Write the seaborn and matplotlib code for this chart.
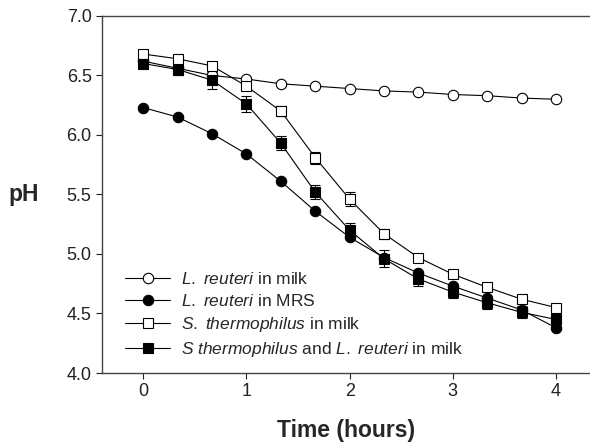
import matplotlib
matplotlib.use("Agg")
import matplotlib.pyplot as plt
import seaborn as sns
import pandas as pd
import numpy as np

# sampling times (hours)
time_h = [0, 1/3, 2/3, 1, 4/3, 5/3, 2, 7/3, 8/3, 3, 10/3, 11/3, 4]

# pH values
reuteri_milk = [6.62, 6.56, 6.50, 6.47, 6.43, 6.41, 6.39, 6.37, 6.36, 6.34, 6.33, 6.31, 6.30]
reuteri_mrs = [6.23, 6.15, 6.01, 5.84, 5.61, 5.36, 5.14, 4.97, 4.84, 4.73, 4.63, 4.53, 4.38]
thermo_milk = [6.68, 6.64, 6.58, 6.41, 6.20, 5.81, 5.46, 5.17, 4.97, 4.83, 4.72, 4.62, 4.55]
coculture = [6.60, 6.55, 6.46, 6.26, 5.93, 5.52, 5.20, 4.96, 4.79, 4.68, 4.59, 4.51, 4.45]

# standard deviations (error bars)
thermo_milk_sd = [0.02, 0.02, 0.02, 0.02, 0.04, 0.05, 0.06, 0.04, 0.02, 0.02, 0.02, 0.02, 0.02]
coculture_sd = [0.03, 0.05, 0.07, 0.07, 0.06, 0.06, 0.06, 0.07, 0.06, 0.05, 0.05, 0.05, 0.05]

labels = [r"$\it{L.\ reuteri}$ in milk",
          r"$\it{L.\ reuteri}$ in MRS",
          r"$\it{S.\ thermophilus}$ in milk",
          r"$\it{S\ thermophilus}$ and $\it{L.\ reuteri}$ in milk"]

sns.set_style("ticks")
plt.rcParams['font.family'] = ['Liberation Sans', 'DejaVu Sans']
plt.rcParams['mathtext.fontset'] = 'custom'
plt.rcParams['mathtext.it'] = 'Liberation Sans:italic'
plt.rcParams['mathtext.rm'] = 'Liberation Sans'

fig = plt.figure(figsize=(5.9, 4.43), dpi=100)
ax = fig.add_axes([0.173, 0.158, 0.827, 0.806])

series = [
    (reuteri_milk, None, 'o', 'white'),
    (reuteri_mrs, None, 'o', 'black'),
    (thermo_milk, thermo_milk_sd, 's', 'white'),
    (coculture, coculture_sd, 's', 'black'),
]

for (vals, sd, mk, face), lab in zip(series, labels):
    df = pd.DataFrame({'time': time_h, 'pH': vals})
    if sd is not None:
        ax.errorbar(time_h, vals, yerr=sd, fmt='none', ecolor='black',
                    elinewidth=0.8, capsize=3.5, capthick=0.8, zorder=2)
    sns.lineplot(data=df, x='time', y='pH', ax=ax, color='black', linewidth=0.8,
                 marker=mk, markersize=7.5, markerfacecolor=face,
                 markeredgecolor='black', markeredgewidth=0.8, label=lab, zorder=3)

ax.set_xlim(-0.4, 4.33)
ax.set_ylim(4.0, 7.0)
ax.set_xticks([0, 1, 2, 3, 4])
ax.set_yticks(np.arange(4.0, 7.01, 0.5))
ax.set_yticklabels([f"{v:.1f}" for v in np.arange(4.0, 7.01, 0.5)])
ax.tick_params(labelsize=13, colors='#222222', length=4, width=0.8)

ax.spines['right'].set_visible(False)
ax.spines['top'].set_visible(True)
for s in ['left', 'bottom', 'top']:
    ax.spines[s].set_linewidth(1.0)
    ax.spines[s].set_color('#444444')

ax.set_xlabel('Time (hours)', fontsize=16.5, fontweight='bold', va='center')
ax.xaxis.set_label_coords(0.5, -0.16)
ax.set_ylabel('pH', fontsize=16.5, fontweight='bold', rotation=0, va='center')
ax.yaxis.set_label_coords(-0.16, 0.5)

ax.legend(loc='lower left', bbox_to_anchor=(0.015, -0.005), frameon=False,
          fontsize=12.5, handlelength=2.6, handletextpad=0.6, labelspacing=0.35)

plt.savefig('out.png', dpi=100)
plt.close()
